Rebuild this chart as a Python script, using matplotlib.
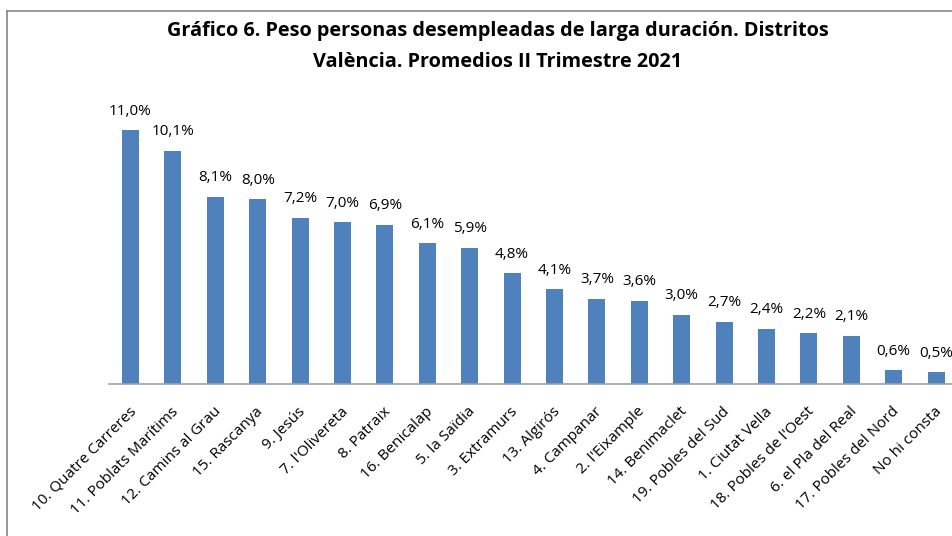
import matplotlib
matplotlib.use("Agg")
import matplotlib.pyplot as plt
from matplotlib.lines import Line2D
from matplotlib.transforms import ScaledTranslation

distritos = ["10. Quatre Carreres", "11. Poblats Marítims", "12. Camins al Grau", "15. Rascanya",
             "9. Jesús", "7. l'Olivereta", "8. Patraix", "16. Benicalap", "5. la Saïdia",
             "3. Extramurs", "13. Algirós", "4. Campanar", "2. l'Eixample", "14. Benimaclet",
             "19. Pobles del Sud", "1. Ciutat Vella", "18. Pobles de l'Oest", "6. el Pla del Real",
             "17. Pobles del Nord", "No hi consta"]
peso = [11.0, 10.1, 8.1, 8.0, 7.2, 7.0, 6.9, 6.1, 5.9, 4.8, 4.1, 3.7, 3.6, 3.0, 2.7, 2.4, 2.2, 2.1, 0.6, 0.5]

plt.rcParams['font.family'] = ['Open Sans', 'DejaVu Sans']

fig = plt.figure(figsize=(9.53, 5.36), dpi=100)
ax = fig.add_axes([109.3/953, 1 - 384/536, 848/953, 277/536])

x = range(len(distritos))
ax.bar(x, peso, width=0.40, color='#4F81BD')
for i, v in zip(x, peso):
    ax.text(i, v + 0.5, f"{v:.1f}%".replace('.', ','), ha='center', va='bottom', fontsize=11)

ax.set_xlim(-0.5, len(distritos) - 0.5)
ax.set_ylim(0, 12)
ax.set_yticks([])
for s in ['top', 'right', 'left']:
    ax.spines[s].set_visible(False)
ax.spines['bottom'].set_color('#A0A0A0')
ax.spines['bottom'].set_linewidth(1.2)
ax.set_xticks(list(x))
ax.set_xticklabels(distritos, rotation=45, ha='right', rotation_mode='anchor', fontsize=11)
ax.tick_params(axis='x', length=0, pad=14.5)
for lab in ax.get_xticklabels():
    lab.set_transform(lab.get_transform() + ScaledTranslation(-2/100, 0, fig.dpi_scale_trans))

fig.text(0.522, 1 - 31/536, "Gráfico 6. Peso personas desempleadas de larga duración. Distritos",
         ha='center', va='center', fontsize=14.3, fontweight='bold')
fig.text(0.522, 1 - 62/536, "València. Promedios II Trimestre 2021",
         ha='center', va='center', fontsize=14.3, fontweight='bold')

# marco del gráfico
fig.add_artist(Line2D([7/953, 7/953], [0, 1 - 11/536], transform=fig.transFigure, color='#868686', lw=1.2))
fig.add_artist(Line2D([7/953, 1], [1 - 11/536, 1 - 11/536], transform=fig.transFigure, color='#868686', lw=1.2))

fig.savefig("out.png", dpi=100)
